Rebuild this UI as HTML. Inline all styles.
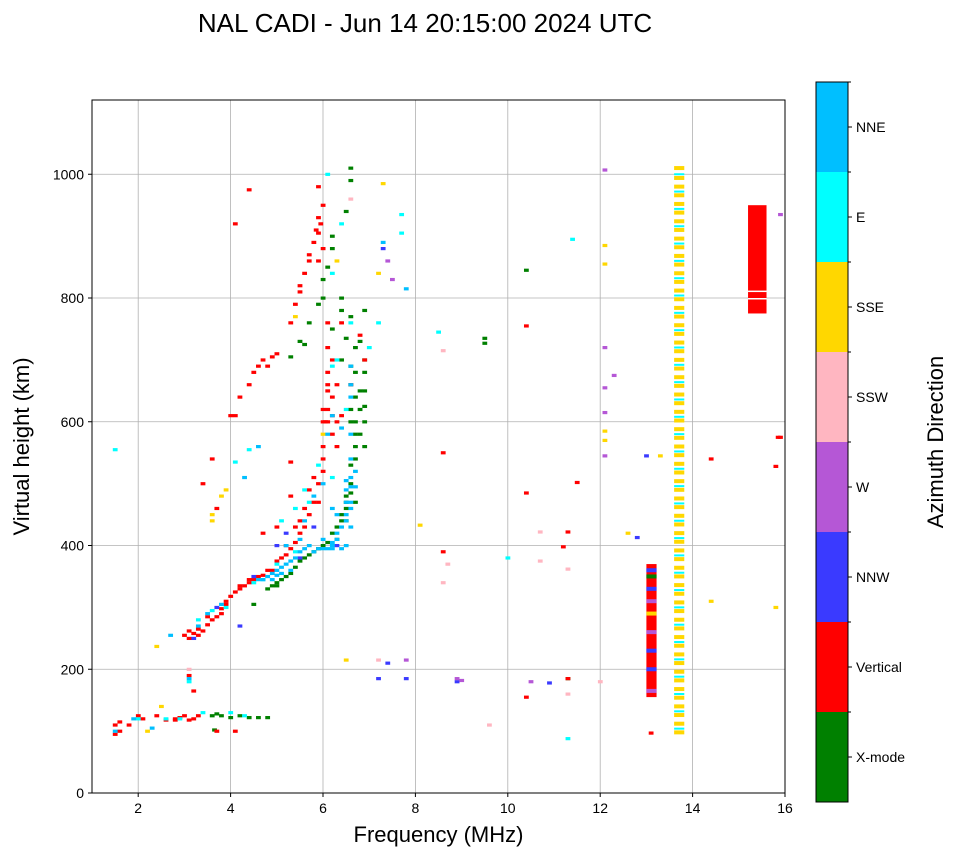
<!DOCTYPE html>
<html><head><meta charset="utf-8"><style>
body{margin:0;background:#fff;font-family:"Liberation Sans",sans-serif}
svg text{font-family:"Liberation Sans",sans-serif}
</style></head><body>
<svg id="c" width="958" height="857">
<text x="425" y="32" font-size="26" text-anchor="middle">NAL CADI - Jun 14 20:15:00 2024 UTC</text>
<g id="grid"></g><g id="marks"></g><g id="axes"></g><g id="cbar"></g>
</svg>
<script>
const colors=["#008000","#ff0000","#3a3aff","#b557d6","#ffb6c1","#ffd700","#00ffff","#00bfff"];
const dirLabels=["X-mode","Vertical","NNW","W","SSW","SSE","E","NNE"];
const xTicks=[2,4,6,8,10,12,14,16];
const yTicks=[0,200,400,600,800,1000];
const xmode=[[3.6,125],[3.7,128],[3.8,125],[4.0,122],[4.2,125],[4.4,122],[4.6,122],[4.8,122],[3.65,102],[4.5,305],[4.8,330],[4.9,335],[5.0,340],[5.1,345],[5.3,355],[5.5,375],[5.7,385],[5.8,390],[6.0,400],[6.2,420],[6.3,430],[6.4,440],[6.5,460],[6.5,480],[6.6,500],[6.6,530],[6.7,560],[6.7,600],[6.8,620],[6.8,650],[6.9,680],[6.9,700],[6.8,730],[6.6,770],[6.4,780],[6.2,880],[6.2,900],[6.5,940],[6.6,1010],[6.6,990],[5.3,705],[5.5,730],[5.7,760],[5.9,790],[6.0,830],[6.1,850],[10.4,845],[9.5,735],[11.3,185],[6.9,560],[6.7,640],[6.9,600],[6.8,580],[6.7,680],[6.5,440],[6.3,410],
[5.0,335],[5.2,350],[5.4,365],[5.6,380],[5.9,395],[6.1,405],[6.4,450],[6.5,470],[6.6,485],[6.7,470],[6.6,620],[6.6,600],[6.7,580],[6.6,660],[6.6,690],[6.7,720],[6.2,750],[6.5,735],[6.4,700],[6.9,650],[6.9,625],[6.7,540],[6.4,800],[6.0,800],[5.6,725],[6.9,780],[9.5,727]];
const vertical=[[1.6,115],[1.8,110],[2.1,120],[2.4,125],[2.6,118],[2.8,120],[2.9,122],[3.0,125],[3.1,118],[3.3,125],[3.7,100],[4.1,100],[3.2,165],[3.1,190],[3.0,255],[3.1,250],[3.2,258],[3.3,255],[3.4,262],[3.5,272],[3.6,280],[3.7,285],[3.8,298],[3.9,305],[4.0,318],[4.1,325],[4.2,330],[4.3,335],[4.4,340],[4.5,345],[4.7,352],[4.9,360],[5.0,375],[5.1,380],[5.2,385],[5.3,395],[5.4,405],[5.5,420],[5.6,430],[5.7,450],[5.8,470],[5.9,500],[6.0,520],[6.0,560],[6.05,600],[6.1,620],[6.2,640],[6.3,600],[6.1,680],[6.4,610],[6.3,560],[5.3,535],[5.3,480],[5.0,430],[4.7,420],[3.6,540],[3.7,460],[3.4,500],[4.0,610],[4.1,610],[4.2,640],[4.4,660],[4.5,680],[4.7,700],[4.8,690],[5.0,710],[5.3,760],[5.4,790],[5.5,820],[5.6,840],[5.7,860],[5.8,890],[5.9,930],[5.9,980],[6.0,950],[5.85,910],[4.1,920],[4.4,975],[6.1,760],[6.1,720],[6.2,700],[6.4,760],[6.6,660],[6.9,700],[6.8,740],[6.1,660],[8.6,550],[8.6,390],[10.4,755],[10.4,485],[10.4,155],[11.2,398],[11.3,422],[11.5,502],[11.3,185],[13.1,97],[14.4,540],[15.8,528],[15.85,575],
[4.6,350],[4.8,360],[5.2,400],[5.4,430],[5.5,440],[5.6,460],[5.7,490],[5.8,510],[5.9,470],[6.0,540],[6.0,600],[6.1,650],[6.2,610],[6.3,660],[6.2,580],[6.0,620],[6.1,600],[3.1,262],[3.3,265],[3.5,285],[3.9,310],[4.2,335],[4.4,345],[3.8,290],[1.5,95],[1.5,110],[1.6,100],[2.0,125],[2.8,118],[3.2,120],[5.9,905],[5.95,920],[5.9,860],[6.0,880],[5.5,810],[5.7,870],[4.9,705],[4.6,690],[15.9,575]];
const nnw=[[3.2,250],[3.7,300],[4.2,270],[4.5,350],[5.0,400],[5.2,420],[5.5,380],[5.8,430],[6.3,400],[7.2,185],[7.4,210],[7.8,185],[7.3,880],[12.8,413],[13.0,545],[8.9,180],[10.9,178]];
const west=[[7.4,860],[7.5,830],[12.1,1007],[12.1,720],[12.1,655],[12.1,615],[12.1,545],[12.3,675],[8.9,185],[9.0,182],[7.8,215],[10.5,180],[15.9,935]];
const ssw=[[8.6,715],[8.6,340],[8.7,370],[10.7,422],[10.7,375],[11.3,362],[11.3,160],[12.0,180],[9.6,110],[6.6,960],[3.1,200],[7.2,215]];
const sse=[[3.6,450],[3.6,440],[3.8,480],[3.9,490],[2.4,237],[2.5,140],[2.2,100],[8.1,433],[12.1,885],[12.1,855],[12.1,585],[12.1,570],[12.6,420],[13.3,545],[14.4,310],[15.8,300],[6.3,860],[7.2,840],[6.5,215],[7.3,985],[5.4,770],[6.0,580]];
const east=[[1.5,555],[2.0,120],[2.6,120],[3.1,180],[3.3,280],[3.6,295],[4.0,130],[4.3,125],[4.4,555],[4.1,535],[5.1,440],[5.4,460],[5.7,470],[5.9,530],[6.2,510],[6.5,620],[6.6,760],[7.0,720],[7.2,760],[7.7,935],[7.7,905],[8.5,745],[10.0,380],[11.4,895],[11.3,88],[6.1,1000],[6.4,920],[6.2,840],
[3.9,300],[4.5,340],[4.7,345],[5.0,370],[5.4,390],[6.3,700],[6.2,690],[5.6,490],[3.4,130],[2.9,120]];
const nne=[[1.5,100],[1.9,120],[2.3,105],[2.7,255],[3.1,185],[3.3,270],[3.5,290],[3.8,305],[4.3,510],[4.6,560],[5.0,360],[5.2,400],[5.5,410],[5.6,440],[5.8,390],[6.0,410],[6.2,395],[6.3,450],[6.5,400],[6.5,470],[6.6,430],[6.6,510],[6.7,520],[6.6,580],[6.1,580],[6.2,610],[6.4,590],[7.8,815],[7.3,890],[5.8,480],[6.0,500],[6.2,460],[6.4,395],[6.6,470],
[4.6,345],[4.7,345],[4.8,350],[4.9,355],[5.0,352],[5.1,365],[5.2,370],[5.3,375],[5.4,380],[5.5,390],[5.6,395],[5.7,400],[5.9,395],[6.0,395],[6.1,395],[6.2,405],[6.3,410],[6.3,420],[6.4,430],[6.5,440],[6.5,450],[6.6,460],[6.5,490],[6.6,495],[6.6,540],[6.2,400],[5.1,355],[5.3,360],[4.9,345],[6.6,640],[6.6,690],[6.6,660],[6.7,495],[6.5,505]];
const blocks=[[13.0,13.22,155,370,1],[15.2,15.6,775,950,1]];
const colGold=[98,112,126,140,154,168,182,196,210,224,238,252,266,280,294,308,322,336,350,364,378,392,406,420,434,448,462,476,490,504,518,532,546,560,574,588,602,616,630,644,658,672,686,700,714,728,742,756,770,784,798,812,826,840,854,868,882,896,910,924,938,952,966,980,994,1010];
const colCyan=[104,132,160,188,216,244,272,300,328,356,384,412,440,468,496,524,552,580,608,636,664,692,720,748,776,804,832,860,888,916,944,972,1000];
const col131Mix=[[165,3],[200,2],[230,2],[260,3],[290,5],[310,3],[330,2],[350,0],[360,2]];
const series=[xmode,vertical,nnw,west,ssw,sse,east,nne];
const X0=92,X1=785,Y0=793,Y1=100,XMIN=1,XMAX=16,YMIN=0,YMAX=1120;
const xs=f=>X0+(f-XMIN)/(XMAX-XMIN)*(X1-X0);
const ys=h=>Y0-(h-YMIN)/(YMAX-YMIN)*(Y0-Y1);
const NS="http://www.w3.org/2000/svg";
function mk(t,a,p){const e=document.createElementNS(NS,t);for(const k in a)e.setAttribute(k,a[k]);p.appendChild(e);return e;}
const grid=document.getElementById('grid'),marks=document.getElementById('marks'),axes=document.getElementById('axes'),cb=document.getElementById('cbar');
xTicks.forEach(v=>{const l=mk('line',{x1:xs(v),x2:xs(v),y1:Y1,y2:Y0,stroke:'#b0b0b0','stroke-width':0.8},grid);


const t=mk('text',{x:xs(v),y:Y0+20,'font-size':14,'text-anchor':'middle'},axes);t.textContent=v;


mk('line',{x1:xs(v),x2:xs(v),y1:Y0,y2:Y0+4,stroke:'#000'},axes);});
yTicks.forEach(v=>{const l=mk('line',{x1:X0,x2:X1,y1:ys(v),y2:ys(v),stroke:'#b0b0b0','stroke-width':0.8},grid);


const t=mk('text',{x:X0-8,y:ys(v)+5,'font-size':14,'text-anchor':'end'},axes);t.textContent=v;


mk('line',{x1:X0-4,x2:X0,y1:ys(v),y2:ys(v),stroke:'#000'},axes);});
function cell(f,h,c){const r=mk('rect',{x:xs(f)-2.3,y:ys(h)-1.5,width:4.8,height:3.2,fill:colors[c]},marks);

}
blocks.forEach(b=>{const r=mk('rect',{x:xs(b[0]),y:ys(b[3]),width:xs(b[1])-xs(b[0]),height:ys(b[2])-ys(b[3]),fill:colors[b[4]]},marks);

});
colGold.forEach(h=>{const r=mk('rect',{x:xs(13.6),y:ys(h)-2,width:xs(13.82)-xs(13.6),height:4,fill:colors[5]},marks);

});
colCyan.forEach(h=>{const r=mk('rect',{x:xs(13.6),y:ys(h)-1,width:xs(13.82)-xs(13.6),height:2,fill:colors[6]},marks);

});
col131Mix.forEach(p=>{const r=mk('rect',{x:xs(13.0),y:ys(p[0])-2,width:xs(13.22)-xs(13.0),height:4,fill:colors[p[1]]},marks);

});
mk('rect',{x:xs(15.2),y:ys(812),width:xs(15.6)-xs(15.2),height:1.5,fill:'#fff'},marks);
mk('rect',{x:xs(15.2),y:ys(800),width:xs(15.6)-xs(15.2),height:1.5,fill:'#fff'},marks);
series.forEach((s,i)=>s.forEach(p=>cell(p[0],p[1],i)));
const fr=mk('rect',{x:X0,y:Y1,width:X1-X0,height:Y0-Y1,fill:'none',stroke:'#000','stroke-width':1},axes);


const xl=mk('text',{x:(X0+X1)/2,y:842,'font-size':22,'text-anchor':'middle'},axes);xl.textContent='Frequency (MHz)';


const yl=mk('text',{x:0,y:0,'font-size':22,'text-anchor':'middle',transform:`translate(29,${(Y0+Y1)/2}) rotate(-90)`},axes);yl.textContent='Virtual height (km)';


const CB0=82,CB1=802,CX=816,CW=32,seg=(CB1-CB0)/8;
dirLabels.forEach((d,i)=>{const y=CB1-(i+1)*seg;const r=mk('rect',{x:CX,y:y,width:CW,height:seg,fill:colors[i]},cb);


mk('line',{x1:CX+CW,x2:CX+CW+4,y1:y+seg/2,y2:y+seg/2,stroke:'#000'},cb);
mk('line',{x1:CX+CW,x2:CX+CW+3,y1:y,y2:y,stroke:'#000'},cb);
const t=mk('text',{x:CX+CW+8,y:y+seg/2+5,'font-size':14},cb);t.textContent=d;

});
mk('rect',{x:CX,y:CB0,width:CW,height:CB1-CB0,fill:'none',stroke:'#000'},cb);
const ct=mk('text',{x:0,y:0,'font-size':22,'text-anchor':'middle',transform:`translate(943,${(CB0+CB1)/2}) rotate(-90)`},cb);ct.textContent='Azimuth Direction';


</script>
</body></html>
